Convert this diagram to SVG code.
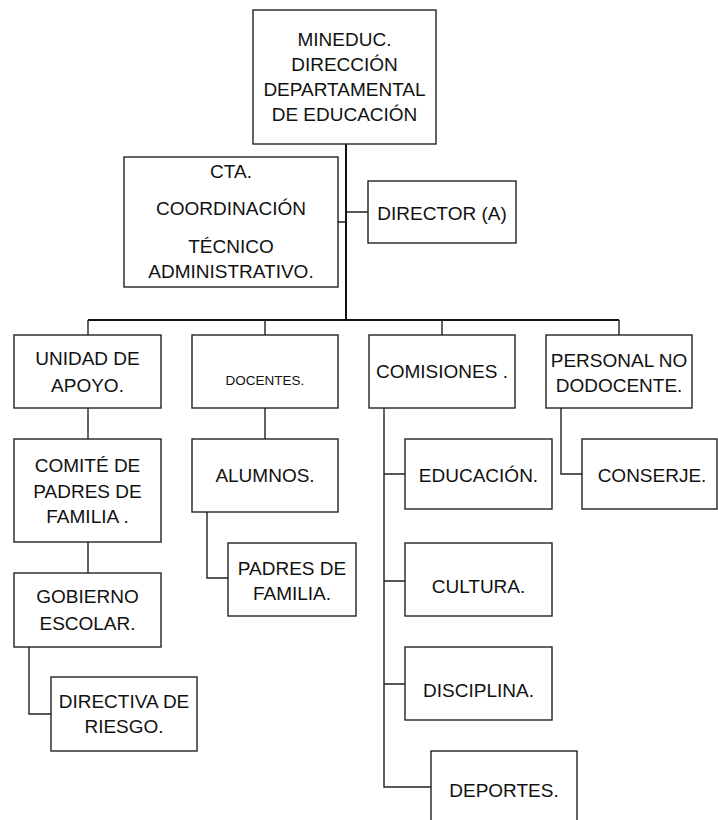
<svg xmlns="http://www.w3.org/2000/svg" width="718" height="820" viewBox="0 0 718 820">
<style>
.box{fill:#fff;stroke:#222;stroke-width:1.4}
.ln{fill:none;stroke:#222;stroke-width:1.4}
.tk{fill:none;stroke:#111;stroke-width:2}
text{font-family:"Liberation Sans",Arial,sans-serif;font-size:19px;fill:#111;text-anchor:middle}
.sm{font-size:13.5px}
</style>
<rect width="718" height="820" fill="#fff"/>
<g id="connectors">
<path class="tk" d="M346 144V320"/>
<path class="ln" d="M338 222H346M346 212H368"/>
<path class="tk" d="M88 320H619"/>
<path class="ln" d="M88 320V335M265 320V335M442 320V335M619 320V335"/>
<path class="ln" d="M88 408V439M88 542V573M29 647V714H51"/>
<path class="ln" d="M265 408V439M207 512V578H228"/>
<path class="ln" d="M384 408V787H431M384 474H405M384 581H405M384 684H405"/>
<path class="ln" d="M561 408V474H582"/>
</g>
<g id="mineduc"><rect class="box" x="253" y="10" width="183" height="134"/>
<text x="344.5" y="46">MINEDUC.</text><text x="344.5" y="71">DIRECCIÓN</text><text x="344.5" y="96">DEPARTAMENTAL</text><text x="344.5" y="121">DE EDUCACIÓN</text></g>
<g id="cta"><rect class="box" x="124" y="157" width="214" height="130"/>
<text x="231" y="178">CTA.</text><text x="231" y="215">COORDINACIÓN</text><text x="231" y="253">TÉCNICO</text><text x="231" y="278">ADMINISTRATIVO.</text></g>
<g id="director"><rect class="box" x="368" y="181" width="148" height="62"/>
<text x="442" y="220">DIRECTOR (A)</text></g>
<g id="unidad"><rect class="box" x="14" y="335" width="147" height="73"/>
<text x="87.5" y="365">UNIDAD DE</text><text x="87.5" y="392">APOYO.</text></g>
<g id="docentes"><rect class="box" x="192" y="335" width="146" height="73"/>
<text class="sm" x="265" y="385">DOCENTES.</text></g>
<g id="comisiones"><rect class="box" x="369" y="335" width="146" height="73"/>
<text x="442" y="378">COMISIONES .</text></g>
<g id="personal"><rect class="box" x="546" y="335" width="146" height="73"/>
<text x="619" y="367">PERSONAL NO</text><text x="619" y="392">DODOCENTE.</text></g>
<g id="comite"><rect class="box" x="14" y="439" width="147" height="103"/>
<text x="87.5" y="472">COMITÉ DE</text><text x="87.5" y="498">PADRES DE</text><text x="87.5" y="523">FAMILIA .</text></g>
<g id="alumnos"><rect class="box" x="192" y="439" width="146" height="73"/>
<text x="265" y="482">ALUMNOS.</text></g>
<g id="padres"><rect class="box" x="228" y="543" width="128" height="73"/>
<text x="292" y="575">PADRES DE</text><text x="292" y="600">FAMILIA.</text></g>
<g id="gobierno"><rect class="box" x="14" y="573" width="147" height="74"/>
<text x="87.5" y="603">GOBIERNO</text><text x="87.5" y="630">ESCOLAR.</text></g>
<g id="directiva"><rect class="box" x="51" y="677" width="146" height="74"/>
<text x="124" y="708">DIRECTIVA DE</text><text x="124" y="733">RIESGO.</text></g>
<g id="educacion"><rect class="box" x="405" y="439" width="147" height="70"/>
<text x="478.5" y="482">EDUCACIÓN.</text></g>
<g id="conserje"><rect class="box" x="582" y="439" width="135" height="70"/>
<text x="652" y="482">CONSERJE.</text></g>
<g id="cultura"><rect class="box" x="405" y="543" width="147" height="73"/>
<text x="478.5" y="593">CULTURA.</text></g>
<g id="disciplina"><rect class="box" x="405" y="647" width="147" height="73"/>
<text x="478.5" y="697">DISCIPLINA.</text></g>
<g id="deportes"><rect class="box" x="431" y="751" width="146" height="80"/>
<text x="504" y="797">DEPORTES.</text></g>
</svg>
